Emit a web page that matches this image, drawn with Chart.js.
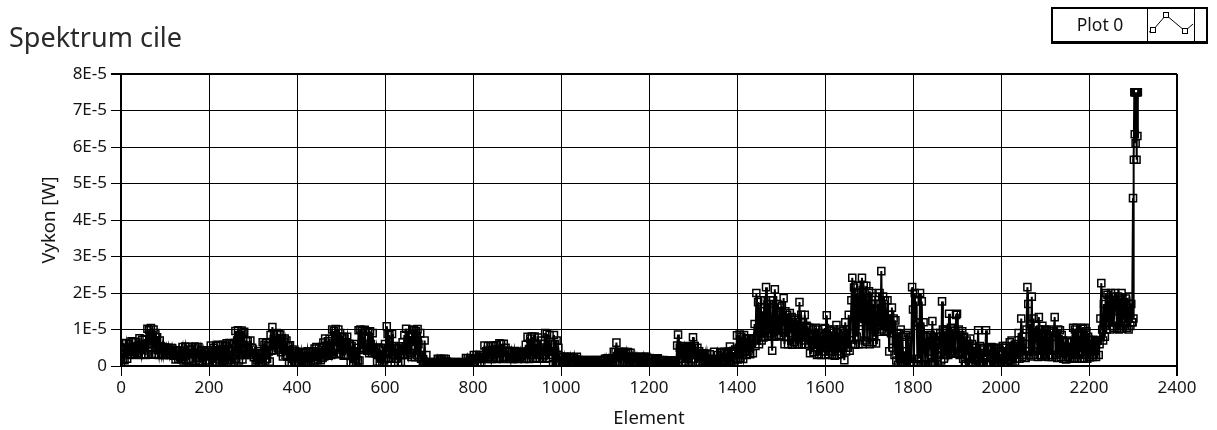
<!DOCTYPE html>
<html>
<head>
<meta charset="utf-8">
<title>Spektrum cile</title>
<script src="https://cdn.jsdelivr.net/npm/chart.js@4.4.1/dist/chart.umd.min.js"></script>
<style>
  html, body { margin: 0; padding: 0; background: #fff; }
  #wrap { position: relative; width: 1217px; height: 430px; }
</style>
</head>
<body>
<div id="wrap"><canvas id="spectrum" width="1217" height="430"></canvas></div>
<script>
const chartTitle = 'Spektrum cile';
const seriesName = 'Plot 0';
const xTitle = 'Element';
const yTitle = 'Vykon [W]';

// x ticks (element index) and y ticks (values are kept in microwatts, 10 uW = 1E-5 W)
const xTickLabels = ['0', '200', '400', '600', '800', '1000', '1200', '1400', '1600', '1800', '2000', '2200', '2400'];
const yTickLabels = ['0', '1E-5', '2E-5', '3E-5', '4E-5', '5E-5', '6E-5', '7E-5', '8E-5'];

// one reading every 2 elements, in uW, 50 per block = 100 elements
const elementStep = 2;
const power = [
  // 0
  0.5, 3.5, 1.8, 6.2, 1.6, 5.0, 6.3, 2.0, 4.8, 6.1, 3.0, 5.0, 6.8, 3.2, 6.5, 4.0, 3.1, 6.6, 3.5, 5.5,
  3.0, 7.6, 4.5, 3.1, 7.2, 5.0, 3.2, 7.4, 3.0, 6.0, 10.2, 3.2, 9.8, 6.0, 10.4, 3.1, 8.5, 10.0, 3.3, 9.0,
  3.1, 7.9, 4.5, 3.0, 7.0, 5.5, 3.2, 5.2, 3.0, 5.0,
  // 100
  5.0, 3.0, 4.9, 3.3, 5.0, 3.0, 4.5, 3.2, 4.9, 3.1, 2.8, 4.3, 1.8, 4.2, 3.0, 2.0, 4.3, 2.5, 1.9, 4.0,
  5.2, 1.5, 4.0, 5.3, 1.6, 3.5, 5.2, 1.5, 4.5, 2.0, 4.4, 5.2, 1.4, 3.6, 5.3, 1.5, 4.8, 2.2, 5.2, 1.4,
  1.2, 4.3, 2.5, 1.0, 4.2, 3.0, 1.1, 4.3, 1.5, 3.8,
  // 200
  4.3, 1.0, 5.6, 2.8, 1.2, 5.0, 3.5, 1.1, 5.5, 2.0, 5.8, 3.0, 1.5, 5.7, 2.5, 1.4, 5.8, 3.2, 1.6, 5.5,
  6.2, 0.8, 4.5, 6.3, 1.6, 0.7, 6.0, 3.0, 1.0, 6.3, 9.6, 2.0, 7.0, 9.8, 1.5, 8.5, 3.0, 9.7, 1.8, 9.0,
  9.4, 3.0, 7.0, 3.2, 6.8, 4.0, 3.1, 7.0, 3.0, 5.0,
  // 300
  4.5, 2.4, 3.5, 0.6, 3.4, 1.5, 4.0, 0.7, 3.5, 0.9, 1.0, 6.5, 3.2, 5.8, 1.5, 6.3, 2.0, 5.5, 4.0, 1.2,
  8.5, 4.2, 10.7, 4.4, 8.8, 6.0, 4.3, 9.0, 5.0, 8.7, 4.5, 8.6, 3.8, 7.6, 2.6, 6.5, 7.5, 3.0, 7.0, 2.6,
  5.5, 1.0, 5.7, 2.5, 1.0, 4.5, 3.0, 1.1, 4.0, 1.0,
  // 400
  3.5, 1.0, 3.8, 2.4, 1.0, 3.6, 1.5, 3.8, 1.0, 2.8, 3.5, 1.2, 4.0, 2.0, 1.1, 3.9, 1.5, 2.8, 4.0, 1.2,
  4.8, 1.5, 5.2, 2.5, 1.8, 5.0, 3.0, 1.6, 5.2, 2.2, 6.4, 2.6, 7.5, 3.5, 3.0, 6.8, 2.8, 7.4, 4.0, 3.0,
  10.0, 3.2, 9.6, 5.5, 10.1, 3.4, 8.0, 10.0, 3.3, 9.0,
  // 500
  3.2, 8.0, 5.0, 2.8, 7.5, 3.0, 6.5, 8.0, 3.0, 6.0, 6.0, 0.8, 5.5, 3.0, 1.0, 6.0, 2.0, 0.9, 5.0, 1.5,
  9.8, 1.5, 10.0, 4.5, 9.5, 5.0, 4.4, 9.9, 6.0, 4.5, 4.2, 9.4, 3.5, 9.5, 6.0, 3.6, 9.0, 4.0, 5.0, 3.5,
  5.0, 1.2, 3.0, 5.0, 0.8, 4.5, 2.0, 1.0, 5.0, 1.5,
  // 600
  6.0, 2.0, 10.9, 8.8, 2.2, 8.5, 4.0, 2.0, 8.8, 3.0, 5.5, 1.0, 4.5, 2.0, 5.0, 1.0, 5.4, 3.0, 1.1, 4.5,
  6.5, 3.0, 8.5, 3.2, 10.2, 4.0, 3.0, 9.0, 3.5, 8.0, 2.5, 9.8, 5.5, 10.0, 2.4, 9.5, 3.0, 10.1, 6.0, 2.5,
  9.0, 2.0, 3.0, 0.5, 1.2, 7.0, 0.6, 3.0, 0.4, 1.0,
  // 700
  0.3, 1.1, 0.4, 1.0, 0.3, 0.9, 0.5, 1.1, 0.2, 0.8, 2.0, 0.5, 1.8, 2.0, 0.4, 1.5, 0.6, 2.0, 0.4, 1.9,
  1.2, 0.3, 1.1, 0.4, 1.0, 0.3, 1.1, 0.6, 0.3, 1.0, 0.3, 1.1, 0.4, 1.0, 0.3, 0.8, 1.1, 0.3, 0.9, 0.4,
  1.0, 0.5, 2.2, 0.6, 2.1, 0.5, 1.5, 2.2, 0.6, 1.8,
  // 800
  0.6, 3.0, 1.0, 2.0, 3.0, 0.8, 2.2, 3.0, 1.0, 2.5, 1.9, 3.0, 2.0, 5.6, 2.2, 4.0, 1.9, 5.5, 2.5, 3.0,
  5.5, 1.9, 3.5, 5.6, 2.0, 4.5, 5.7, 1.9, 4.0, 2.2, 6.2, 2.0, 6.0, 3.8, 1.9, 6.1, 2.5, 5.0, 2.0, 4.0,
  4.2, 2.0, 3.8, 1.9, 4.0, 2.5, 1.9, 4.1, 2.2, 3.5,
  // 900
  3.9, 1.9, 3.8, 2.5, 3.9, 2.0, 3.0, 3.8, 1.9, 3.5, 5.8, 2.0, 8.0, 4.0, 1.9, 7.5, 3.0, 8.1, 2.0, 6.0,
  8.1, 2.0, 6.0, 2.2, 7.8, 3.0, 2.0, 7.0, 4.0, 2.1, 6.1, 3.0, 9.0, 2.0, 8.8, 4.0, 2.2, 8.5, 3.0, 6.0,
  4.0, 0.5, 8.5, 6.0, 0.6, 7.0, 1.0, 5.0, 0.5, 2.5,
  // 1000
  2.5, 0.5, 2.4, 1.0, 2.5, 0.4, 2.0, 2.5, 0.6, 2.3, 0.4, 2.5, 1.2, 2.3, 0.5, 2.4, 0.3, 1.8, 2.5, 0.6,
  1.6, 0.4, 1.5, 0.8, 1.6, 0.3, 1.2, 1.6, 0.4, 1.5, 0.3, 1.4, 0.6, 1.6, 0.4, 1.5, 0.3, 1.6, 0.8, 1.2,
  1.5, 0.5, 1.6, 0.4, 1.5, 0.3, 1.6, 0.6, 1.4, 0.4,
  // 1100
  2.0, 0.4, 2.1, 0.6, 2.0, 0.5, 1.5, 2.1, 0.4, 1.8, 3.9, 1.0, 3.8, 6.4, 1.2, 3.5, 3.9, 0.8, 3.0, 3.8,
  3.5, 1.0, 3.9, 1.5, 3.4, 0.9, 3.8, 2.0, 1.0, 3.6, 0.8, 2.5, 0.5, 2.4, 1.0, 2.5, 0.6, 2.2, 0.5, 2.4,
  2.5, 0.6, 2.4, 1.0, 2.5, 0.5, 2.0, 2.5, 0.6, 2.2,
  // 1200
  0.6, 2.1, 0.5, 2.0, 1.0, 2.1, 0.4, 1.8, 0.6, 2.0, 2.1, 0.4, 1.6, 0.6, 1.4, 0.3, 1.6, 0.8, 1.5, 0.4,
  0.3, 1.5, 0.6, 1.4, 0.4, 1.5, 0.3, 1.2, 1.5, 0.5, 1.4, 0.8, 5.6, 8.6, 1.0, 5.0, 2.0, 5.5, 1.0, 4.5,
  5.4, 1.2, 5.0, 2.0, 5.2, 1.0, 4.5, 5.5, 1.5, 5.0,
  // 1300
  7.9, 2.0, 5.5, 1.0, 3.5, 5.0, 1.2, 4.0, 1.0, 3.5, 3.4, 0.6, 3.3, 1.0, 3.0, 0.5, 3.4, 1.5, 0.6, 3.2,
  0.4, 1.6, 0.5, 1.5, 3.9, 0.6, 1.6, 0.4, 3.0, 1.0, 1.0, 3.8, 0.8, 3.7, 1.5, 3.9, 0.7, 3.5, 1.2, 3.8,
  3.9, 1.2, 5.3, 1.0, 4.0, 1.5, 3.8, 1.0, 4.5, 2.0,
  // 1400
  8.4, 1.8, 5.0, 8.6, 2.2, 8.0, 3.0, 1.9, 8.5, 4.0, 7.5, 3.0, 7.4, 4.0, 7.6, 3.2, 6.0, 7.5, 3.5, 7.0,
  11.5, 5.5, 20.0, 8.0, 17.5, 6.0, 12.0, 18.0, 7.0, 15.0, 7.8, 18.0, 8.0, 21.6, 12.0, 8.2, 17.0, 9.0, 18.0, 8.0,
  4.2, 18.0, 8.0, 21.0, 12.0, 8.1, 17.0, 10.0, 8.5, 16.0,
  // 1500
  8.2, 16.5, 11.0, 18.6, 6.0, 15.0, 8.0, 14.0, 6.0, 12.0, 14.5, 9.0, 13.4, 5.8, 12.0, 6.5, 13.0, 8.0, 5.9, 12.5,
  6.0, 17.5, 8.0, 14.0, 5.9, 12.0, 7.0, 14.0, 6.0, 11.0, 10.7, 6.0, 10.5, 3.5, 8.0, 6.0, 10.0, 3.8, 9.0, 5.0,
  10.5, 3.0, 10.0, 3.2, 9.0, 5.0, 3.0, 10.2, 4.0, 8.0,
  // 1600
  10.4, 3.0, 13.9, 7.0, 3.2, 10.0, 4.0, 9.5, 3.0, 8.0, 10.0, 2.8, 6.0, 11.2, 3.0, 9.0, 4.0, 10.0, 3.2, 7.0,
  9.5, 5.0, 1.6, 12.0, 4.0, 10.0, 5.0, 14.0, 4.2, 9.0, 18.0, 24.2, 6.0, 21.5, 5.8, 20.0, 8.0, 22.0, 6.0, 16.0,
  22.0, 12.0, 24.2, 6.0, 22.0, 7.0, 18.0, 22.0, 6.5, 15.0,
  // 1700
  20.5, 6.0, 14.0, 20.0, 6.5, 17.0, 8.0, 19.0, 6.2, 12.0, 17.0, 11.0, 20.0, 9.4, 26.0, 10.0, 19.0, 9.5, 18.0, 12.0,
  9.4, 18.0, 13.0, 4.0, 14.0, 9.0, 16.0, 5.0, 13.0, 3.0, 12.5, 1.5, 9.0, 0.3, 8.8, 2.0, 10.0, 0.5, 8.0, 1.0,
  4.0, 0.4, 8.5, 0.3, 9.0, 2.0, 0.4, 8.0, 1.0, 21.6,
  // 1800
  15.5, 0.3, 20.0, 12.0, 17.7, 0.4, 12.0, 2.0, 20.0, 0.5, 17.7, 0.3, 12.0, 8.4, 0.3, 6.0, 8.0, 0.4, 4.0, 8.5,
  8.5, 0.3, 12.3, 1.0, 8.0, 0.5, 9.0, 3.0, 0.4, 8.0, 4.5, 9.0, 1.5, 17.7, 10.0, 2.0, 9.5, 3.0, 10.0, 4.0,
  3.0, 14.3, 3.4, 10.5, 3.5, 10.0, 4.0, 9.5, 3.4, 14.0,
  // 1900
  14.3, 3.4, 10.0, 3.0, 8.5, 3.5, 9.5, 2.0, 8.0, 1.0, 0.5, 7.0, 3.0, 6.0, 0.4, 7.5, 1.0, 6.0, 0.5, 5.0,
  5.0, 0.4, 5.0, 2.0, 9.8, 0.3, 5.5, 1.0, 4.5, 0.3, 0.3, 5.0, 2.5, 9.8, 0.3, 5.0, 1.0, 4.5, 0.4, 5.2,
  4.8, 1.5, 5.0, 0.3, 4.6, 1.0, 5.0, 0.3, 4.0, 2.0,
  // 2000
  0.3, 3.0, 5.5, 0.5, 5.0, 1.0, 5.5, 0.6, 4.0, 1.5, 6.5, 1.5, 7.0, 1.0, 4.5, 5.5, 1.2, 6.0, 2.0, 5.0,
  9.0, 2.0, 5.5, 13.0, 2.5, 8.0, 3.0, 6.0, 2.2, 10.0, 21.6, 17.0, 3.0, 11.5, 2.6, 19.0, 4.0, 13.0, 3.0, 9.0,
  11.0, 6.0, 2.5, 13.4, 3.0, 10.0, 2.6, 11.0, 5.0, 3.0,
  // 2100
  10.0, 2.6, 9.8, 5.0, 2.5, 10.0, 3.0, 9.5, 2.5, 8.0, 9.5, 13.4, 3.0, 9.0, 2.2, 10.0, 3.5, 9.8, 2.5, 8.5,
  7.0, 2.0, 6.6, 4.0, 1.8, 7.0, 2.5, 6.5, 2.0, 5.0, 6.6, 2.0, 10.5, 2.2, 10.0, 3.0, 10.5, 2.0, 9.0, 3.5,
  5.0, 10.4, 2.0, 10.2, 2.2, 10.5, 3.0, 9.5, 2.0, 8.0,
  // 2200
  7.2, 2.4, 4.0, 7.0, 2.5, 7.2, 3.0, 6.5, 2.5, 7.0, 7.0, 3.0, 6.0, 13.0, 22.7, 10.0, 7.0, 17.0, 8.0, 20.0,
  10.0, 19.5, 12.0, 18.0, 10.0, 20.0, 11.0, 19.0, 10.5, 17.0, 20.0, 15.0, 10.2, 19.0, 10.0, 18.5, 11.0, 20.0, 10.2, 16.0,
  17.5, 12.0, 18.5, 10.5, 16.0, 10.0, 19.0, 11.0, 17.0, 12.0
];

// the spike at the very end of the record
const tailElement = [2299, 2300, 2301, 2302, 2303, 2304, 2305, 2306, 2307, 2308, 2309, 2310, 2311];
const tailPower = [12.0, 46.0, 13.0, 56.5, 75.0, 63.5, 75.0, 61.0, 75.0, 56.5, 75.0, 63.0, 75.0];

const points = power.map((p, i) => ({ x: i * elementStep, y: p }))
  .concat(tailElement.map((e, i) => ({ x: e, y: tailPower[i] })));

const textColor = '#141414';
const uiFont = '"Noto Sans", "DejaVu Sans", sans-serif';

// title and the little LabVIEW style legend box
const labviewFrame = {
  id: 'labviewFrame',
  afterDraw(chart) {
    const ctx = chart.ctx;
    ctx.save();
    ctx.fillStyle = '#2a2a2a';
    ctx.font = '27px ' + uiFont;
    ctx.textBaseline = 'alphabetic';
    ctx.textAlign = 'left';
    ctx.fillText(chartTitle, 9, 47);

    // legend frame
    ctx.fillStyle = '#000';
    ctx.fillRect(1051, 7, 157, 37);
    ctx.fillStyle = '#fff';
    ctx.fillRect(1053, 9, 153, 32);
    ctx.strokeStyle = '#000';
    ctx.lineWidth = 1;
    ctx.beginPath();
    ctx.moveTo(1147.5, 9); ctx.lineTo(1147.5, 41);
    ctx.moveTo(1194.5, 9); ctx.lineTo(1194.5, 41);
    ctx.stroke();

    ctx.fillStyle = textColor;
    ctx.font = '17.5px ' + uiFont;
    ctx.textAlign = 'center';
    ctx.fillText(seriesName, 1100, 31);

    // legend glyph: line with hollow squares
    ctx.beginPath();
    ctx.moveTo(1149, 32); ctx.lineTo(1153, 30); ctx.lineTo(1166, 15);
    ctx.lineTo(1185, 31); ctx.lineTo(1193, 24);
    ctx.stroke();
    [[1153, 30], [1166, 15], [1185, 31]].forEach(([x, y]) => {
      ctx.fillStyle = '#fff';
      ctx.fillRect(x - 3, y - 3, 6, 6);
      ctx.strokeRect(x - 2.5, y - 2.5, 5, 5);
    });
    ctx.restore();
  }
};

new Chart(document.getElementById('spectrum'), {
  type: 'line',
  plugins: [labviewFrame],
  data: {
    datasets: [{
      label: seriesName,
      data: points,
      borderColor: '#000',
      borderWidth: 2,
      tension: 0,
      pointStyle: 'rect',
      pointRadius: 5,
      pointBorderWidth: 1.5,
      pointBorderColor: '#000',
      pointBackgroundColor: 'rgba(0,0,0,0)'
    }]
  },
  options: {
    responsive: false,
    animation: false,
    devicePixelRatio: 1,
    events: [],
    layout: { padding: { top: 74, right: 40, left: 0, bottom: 0 } },
    plugins: {
      legend: { display: false },
      tooltip: { enabled: false },
      title: { display: false }
    },
    scales: {
      x: {
        type: 'linear',
        min: 0,
        max: 2400,
        afterFit: (scale) => { scale.height = 64; },
        ticks: {
          stepSize: 200,
          color: textColor,
          font: { family: uiFont, size: 17 },
          padding: 2,
          maxRotation: 0,
          callback: (v) => xTickLabels[Math.round(v / 200)]
        },
        grid: {
          color: '#000',
          lineWidth: (c) => (c.tick && c.tick.value === 2400 ? 2 : 1),
          tickLength: 10,
          tickColor: '#000'
        },
        border: { display: true, color: '#000', width: 2 },
        title: {
          display: true,
          text: xTitle,
          color: textColor,
          font: { family: uiFont, size: 18.5 },
          padding: { top: 0, bottom: 0 }
        }
      },
      y: {
        min: 0,
        max: 80,
        afterFit: (scale) => { scale.width = 121; },
        ticks: {
          stepSize: 10,
          color: textColor,
          font: { family: uiFont, size: 17 },
          padding: 4,
          callback: (v) => yTickLabels[Math.round(v / 10)]
        },
        grid: {
          color: '#000',
          lineWidth: (c) => (c.tick && c.tick.value === 80 ? 2 : 1),
          tickLength: 10,
          tickColor: '#000'
        },
        border: { display: true, color: '#000', width: 2 },
        title: {
          display: true,
          text: yTitle,
          color: textColor,
          font: { family: uiFont, size: 18.5 },
          padding: { top: 39, bottom: 0 }
        }
      }
    }
  }
});
</script>
</body>
</html>
